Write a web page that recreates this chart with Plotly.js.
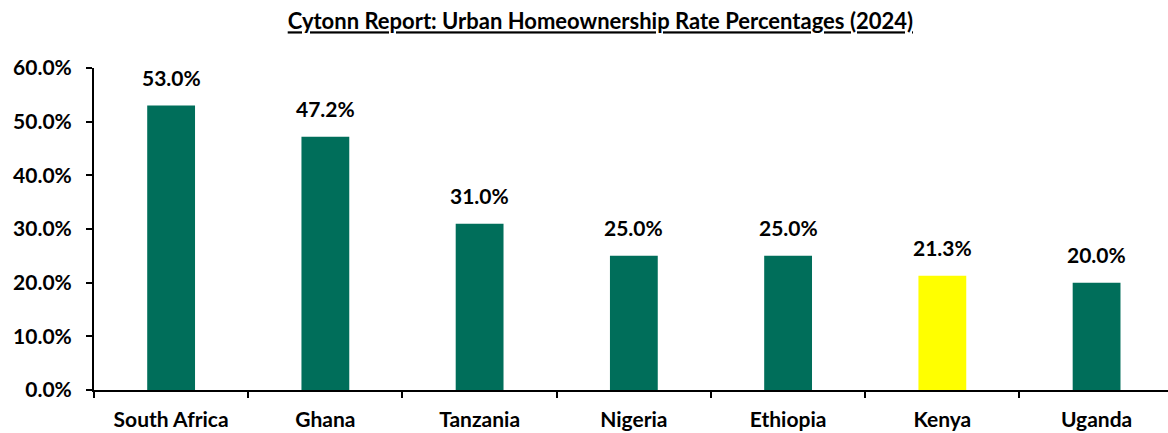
<!DOCTYPE html>
<html>
<head>
<meta charset="utf-8">
<script src="https://cdn.plot.ly/plotly-3.0.1.min.js"></script>
<style>html,body{margin:0;padding:0;background:#fff;}#chart{width:1168px;height:433px;}</style>
</head>
<body>
<div id="chart"></div>
<script>
const categories = ["South Africa", "Ghana", "Tanzania", "Nigeria", "Ethiopia", "Kenya", "Uganda"];
const values = [53.0, 47.2, 31.0, 25.0, 25.0, 21.3, 20.0];
const highlight = "Kenya";
const yTickVals = [0, 10, 20, 30, 40, 50, 60];
const yTickText = ["0.0%", "10.0%", "20.0%", "30.0%", "40.0%", "50.0%", "60.0%"];

const green = "#006E5A";
const yellow = "#FFFF00";
const font = "Lato, 'Open Sans', sans-serif";

const trace = {
  type: "bar",
  x: categories,
  y: values,
  width: 0.31,
  marker: { color: categories.map(c => c === highlight ? yellow : green) },
  hoverinfo: "skip"
};

const annotations = categories.map((c, i) => ({
  x: c, y: values[i], xref: "x", yref: "y",
  text: "<b>" + values[i].toFixed(1) + "%</b>",
  showarrow: false, yanchor: "bottom", yshift: 14,
  font: { family: font, size: 21, color: "#000" }
}));

const layout = {
  width: 1168, height: 433,
  margin: { l: 94, r: 0, t: 68, b: 43 },
  paper_bgcolor: "#fff", plot_bgcolor: "#fff",
  showlegend: false,
  annotations: annotations,
  title: {
    text: "<b><u>Cytonn Report: Urban Homeownership Rate Percentages (2024)</u></b>",
    font: { family: font, size: 22, color: "#000" },
    x: 0.514, xanchor: "center", xref: "container",
    y: 0.95, yanchor: "middle", yref: "container"
  },
  xaxis: {
    type: "category",
    range: [-0.5, 6.463],
    showline: true, linecolor: "#000", linewidth: 2,
    ticks: "outside", tickson: "boundaries", ticklen: 6, tickwidth: 2, tickcolor: "#000",
    tickfont: { family: font, size: 21, color: "#000", weight: 700 },
    ticklabelstandoff: 10,
    showgrid: false, zeroline: false, fixedrange: true
  },
  yaxis: {
    range: [0, 60],
    tickvals: yTickVals, ticktext: yTickText,
    showline: true, linecolor: "#000", linewidth: 2,
    ticks: "outside", ticklen: 6, tickwidth: 2, tickcolor: "#000",
    tickfont: { family: font, size: 21, color: "#000", weight: 700 },
    ticklabelstandoff: 10,
    showgrid: false, zeroline: false, fixedrange: true
  },
  bargap: 0.69
};

Plotly.newPlot("chart", [trace], layout, { displayModeBar: false, staticPlot: true });
</script>
</body>
</html>
